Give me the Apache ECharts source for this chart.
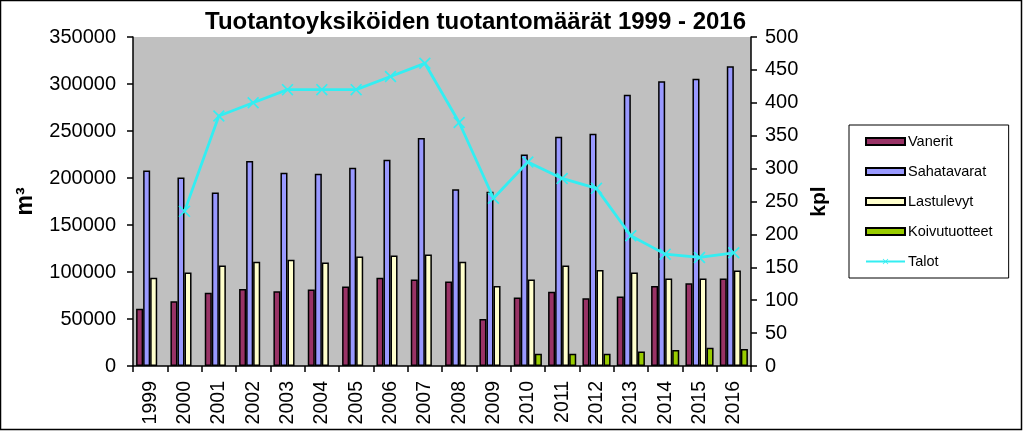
<!DOCTYPE html>
<html>
<head>
<meta charset="utf-8">
<script src="https://cdn.jsdelivr.net/npm/echarts@6/dist/echarts.min.js"></script>
<style>
  html, body { margin: 0; padding: 0; background: #fff; }
  #chart { width: 1023px; height: 431px; }
</style>
</head>
<body>
<div id="chart"></div>
<script>
var years = ['1999', '2000', '2001', '2002', '2003', '2004', '2005', '2006', '2007',
             '2008', '2009', '2010', '2011', '2012', '2013', '2014', '2015', '2016'];
var vanerit = [61000, 69000, 78000, 82000, 79500, 81500, 84500, 94000, 92000,
               90000, 50000, 73000, 79000, 72000, 74000, 85000, 88000, 93000];
var sahatavarat = [208000, 200500, 184500, 218000, 205500, 204500, 211000, 219500, 242500,
                   188000, 185500, 225000, 244000, 247000, 288500, 303000, 305500, 319000];
var lastulevyt = [94000, 99500, 107000, 111000, 113000, 110000, 116500, 117500, 118500,
                  111000, 85000, 92000, 107000, 102000, 99500, 93000, 93000, 101500];
var koivutuotteet = [null, null, null, null, null, null, null, null, null,
                     null, null, 13000, 13000, 13000, 15500, 17000, 19500, 18000];
var talot = [null, 235, 380, 400, 420, 420, 420, 440, 460,
             370, 255, 310, 285, 270, 198, 170, 165, 172];
var leftTicks = [0, 50000, 350000];
var rightTicks = [0, 50, 500];

var chart = echarts.init(document.getElementById('chart'));
var font = 'Liberation Sans, Arial, sans-serif';
var xMark = 'path://M0,1L1,0L5,4L9,0L10,1L6,5L10,9L9,10L5,6L1,10L0,9L4,5Z';

function barSeries(name, data, color) {
    return {
        name: name,
        type: 'bar',
        data: data,
        barGap: '0%',
        barCategoryGap: '18%',
        itemStyle: { color: color, borderColor: '#000', borderWidth: 1.5 }
    };
}

function axisStyle() {
    return {
        axisLine: { show: true, lineStyle: { color: '#000', width: 1.5 } },
        axisTick: { show: true, length: 6, lineStyle: { color: '#000', width: 1.5 } }
    };
}

var left = axisStyle();
var right = axisStyle();
var bottom = axisStyle();

chart.setOption({
    animation: false,
    backgroundColor: '#fff',
    title: {
        text: 'Tuotantoyksiköiden tuotantomäärät 1999 - 2016',
        left: 200,
        top: 5,
        textStyle: { fontFamily: font, fontSize: 24, fontWeight: 'bold', color: '#000' }
    },
    graphic: [{
        type: 'rect',
        shape: { x: 0.5, y: 0.5, width: 1021, height: 429 },
        style: { fill: 'none', stroke: '#000', lineWidth: 1.5 },
        silent: true
    }],
    legend: {
        orient: 'vertical',
        left: 849,
        top: 125,
        padding: [9, 16, 9, 16],
        itemWidth: 39,
        itemHeight: 7,
        itemGap: 15,
        backgroundColor: '#fff',
        borderColor: '#000',
        borderWidth: 1,
        textStyle: { fontFamily: font, fontSize: 14.5, color: '#000', padding: [0, 0, 0, -2] },
        data: [
            { name: 'Vanerit', icon: 'rect' },
            { name: 'Sahatavarat', icon: 'rect' },
            { name: 'Lastulevyt', icon: 'rect' },
            { name: 'Koivutuotteet', icon: 'rect' },
            { name: 'Talot' }
        ]
    },
    grid: {
        left: 133,
        right: 272,
        top: 37,
        bottom: 65,
        show: true,
        backgroundColor: '#c0c0c0',
        borderWidth: 0
    },
    xAxis: {
        type: 'category',
        data: years,
        axisLine: bottom.axisLine,
        axisTick: bottom.axisTick,
        axisLabel: { rotate: 90, margin: 15, fontFamily: font, fontSize: 19.5, color: '#000' }
    },
    yAxis: [{
        type: 'value',
        min: leftTicks[0],
        max: leftTicks[2],
        interval: leftTicks[1],
        name: 'm³',
        nameLocation: 'middle',
        nameGap: 96,
        nameMoveOverlap: false,
        nameTextStyle: { fontFamily: font, fontSize: 23, fontWeight: 'bold', color: '#000' },
        axisLine: left.axisLine,
        axisTick: left.axisTick,
        splitLine: { show: false },
        axisLabel: {
            fontFamily: font, fontSize: 20, color: '#000', margin: 17,
            formatter: function (v) { return String(v); }
        }
    }, {
        type: 'value',
        min: rightTicks[0],
        max: rightTicks[2],
        interval: rightTicks[1],
        name: 'kpl',
        nameLocation: 'middle',
        nameGap: 58,
        nameRotate: 90,
        nameMoveOverlap: false,
        nameTextStyle: { fontFamily: font, fontSize: 21, fontWeight: 'bold', color: '#000' },
        axisLine: right.axisLine,
        axisTick: right.axisTick,
        splitLine: { show: false },
        axisLabel: { fontFamily: font, fontSize: 20, color: '#000', margin: 14 }
    }],
    series: [
        barSeries('Vanerit', vanerit, '#993366'),
        barSeries('Sahatavarat', sahatavarat, '#9999ff'),
        barSeries('Lastulevyt', lastulevyt, '#ffffcc'),
        barSeries('Koivutuotteet', koivutuotteet, '#99cc00'),
        {
            name: 'Talot',
            type: 'line',
            yAxisIndex: 1,
            data: talot,
            symbol: xMark,
            symbolSize: 12,
            showAllSymbol: true,
            lineStyle: { color: '#33eef2', width: 2.8 },
            itemStyle: { color: '#33eef2' }
        }
    ]
});
</script>
</body>
</html>
